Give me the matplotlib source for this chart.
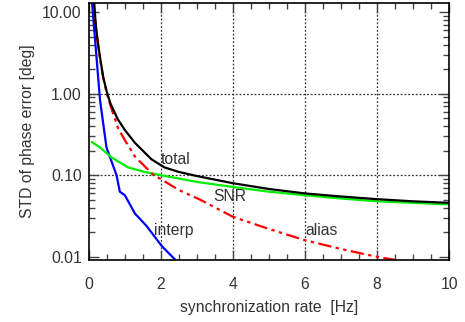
import matplotlib
matplotlib.use('Agg')
import matplotlib.pyplot as plt
from matplotlib.ticker import FixedLocator, MultipleLocator, LogLocator, NullFormatter

# values
total_x = [0.147, 0.2, 0.25, 0.3, 0.4, 0.5, 0.6, 0.8, 1.0, 1.28, 1.74, 2.1, 2.5, 3.0, 4.0, 5.0, 6.0, 7.0, 8.0, 9.0, 10.0]
total_y = [13, 6.5, 4.3, 3.0, 1.6, 1.05, 0.76, 0.49, 0.36, 0.25, 0.157, 0.125, 0.11, 0.098, 0.08, 0.068, 0.06, 0.055, 0.051, 0.048, 0.046]

alias_x = [0.14, 0.2, 0.25, 0.3, 0.4, 0.5, 0.6, 0.81, 1.0, 1.28, 1.8, 2.0, 2.5, 3.1, 4.0, 5.0, 6.0, 7.0, 8.0, 8.5]
alias_y = [13, 6.3, 4.2, 2.9, 1.55, 1.0, 0.72, 0.38, 0.27, 0.17, 0.1, 0.09, 0.066, 0.05, 0.031, 0.022, 0.016, 0.0125, 0.010, 0.0092]

snr_x = [0.09, 0.31, 0.63, 1.09, 1.55, 1.97, 3.0, 4.0, 5.0, 6.0, 7.0, 8.0, 9.0, 10.0]
snr_y = [0.255, 0.22, 0.166, 0.125, 0.11, 0.101, 0.083, 0.072, 0.063, 0.057, 0.052, 0.048, 0.046, 0.044]

interp_x = [0.09, 0.31, 0.49, 0.77, 0.86, 1.0, 1.28, 1.6, 2.03, 2.39]
interp_y = [13, 0.845, 0.22, 0.1, 0.063, 0.057, 0.034, 0.024, 0.0135, 0.0093]

plt.rcParams['font.family'] = ['Liberation Sans', 'DejaVu Sans']
plt.rcParams['font.size'] = 11.3

fig = plt.figure(figsize=(4.65, 3.22), dpi=100)
ax = fig.add_axes([0.191, 0.193, 0.775, 0.798])

ax.plot(interp_x, interp_y, color='#0000ff', lw=1.6)
ax.plot(snr_x, snr_y, color='#00ee00', lw=1.6)
ax.plot(alias_x, alias_y, color='#ff0000', lw=1.6, dashes=(6, 2, 1.5, 2, 1.5, 2))
ax.plot(total_x, total_y, color='black', lw=1.6)

ax.set_yscale('log')
ax.set_xlim(0, 10)
ax.set_ylim(0.0092, 13)

ax.xaxis.set_major_locator(MultipleLocator(2))
ax.xaxis.set_minor_locator(MultipleLocator(0.5))
ax.yaxis.set_major_locator(FixedLocator([0.01, 0.1, 1, 10]))
ax.yaxis.set_minor_locator(LogLocator(base=10, subs=range(2, 10)))
ax.yaxis.set_minor_formatter(NullFormatter())
ax.set_yticklabels(['0.01', '0.10', '1.00', '10.00'])

ax.tick_params(which='both', direction='in', top=True, right=True, color='#444444',
               labelcolor='#333333')
ax.tick_params(which='major', length=7, width=1)
ax.tick_params(which='minor', length=4, width=1)
ax.tick_params(axis='x', pad=12)
ax.tick_params(axis='y', pad=5)

for v in [2, 4, 6, 8]:
    ax.axvline(v, color='#333333', lw=0.9, ls=(0, (1.5, 1.5)), zorder=0)
for v in [0.1, 1]:
    ax.axhline(v, color='#333333', lw=0.9, ls=(0, (1.5, 1.5)), zorder=0)

for s in ax.spines.values():
    s.set_linewidth(1.2)

ax.text(2.4, 0.157, 'total', ha='center', va='center', color='#333333')
ax.text(3.9, 0.055, 'SNR', ha='center', va='center', color='#333333')
ax.text(2.35, 0.021, 'interp', ha='center', va='center', color='#333333')
ax.text(6.45, 0.021, 'alias', ha='center', va='center', color='#333333')

ax.set_xlabel('synchronization rate  [Hz]', color='#333333', labelpad=6)
ax.set_ylabel('STD of phase error [deg]', color='#333333', labelpad=5)

fig.savefig('out.png')
